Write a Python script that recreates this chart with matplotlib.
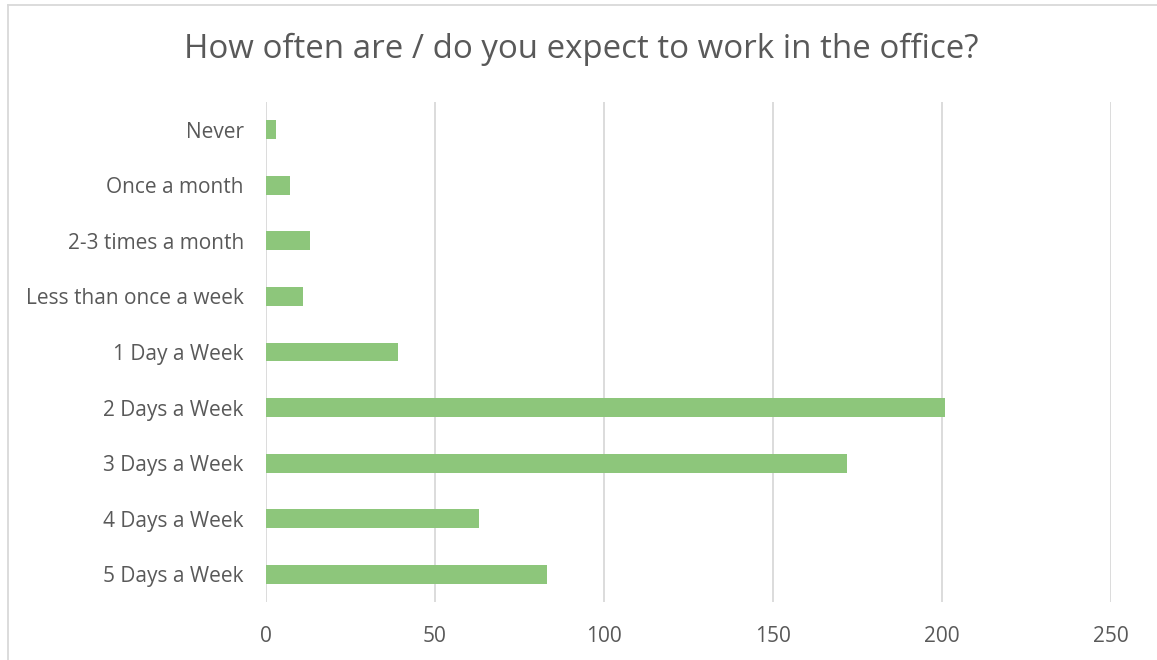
import matplotlib.pyplot as plt
from matplotlib.lines import Line2D

plt.rcParams['font.family'] = ['Open Sans', 'DejaVu Sans']

categories = ["5 Days a Week", "4 Days a Week", "3 Days a Week", "2 Days a Week",
              "1 Day a Week", "Less than once a week", "2-3 times a month",
              "Once a month", "Never"]
counts = [83, 63, 172, 201, 39, 11, 13, 7, 3]
x_ticks = [0, 50, 100, 150, 200, 250]

text_col = "#595959"
bar_col = "#8DC67B"
grid_col = "#D9D9D9"

fig = plt.figure(figsize=(11.57, 6.6), dpi=100)
ax = fig.add_axes([266 / 1157, 1 - 602 / 660, (1111 - 266) / 1157, 500 / 660])

ax.barh(range(len(categories)), counts, height=0.34, color=bar_col, zorder=3)
ax.set_xlim(0, 250)
ax.set_ylim(-0.5, len(categories) - 0.5)
ax.set_yticks(range(len(categories)))
ax.set_yticklabels(categories)
ax.set_xticks(x_ticks)
ax.tick_params(axis='both', length=0, labelsize=15, labelcolor=text_col)
ax.tick_params(axis='y', pad=16)
ax.tick_params(axis='x', pad=17)
ax.grid(axis='x', color=grid_col, linewidth=1.3, zorder=0)
for s in ax.spines.values():
    s.set_visible(False)

fig.text(581 / 1157, 1 - 49 / 660, "How often are / do you expect to work in the office?",
         ha='center', va='center', fontsize=23.8, color=text_col)

# chart frame
fig.add_artist(Line2D([8 / 1157, 1], [1 - 5 / 660, 1 - 5 / 660], color=grid_col, lw=1.3))
fig.add_artist(Line2D([8 / 1157, 8 / 1157], [0, 1 - 5 / 660], color=grid_col, lw=1.3))

fig.savefig("out.png", dpi=100)
